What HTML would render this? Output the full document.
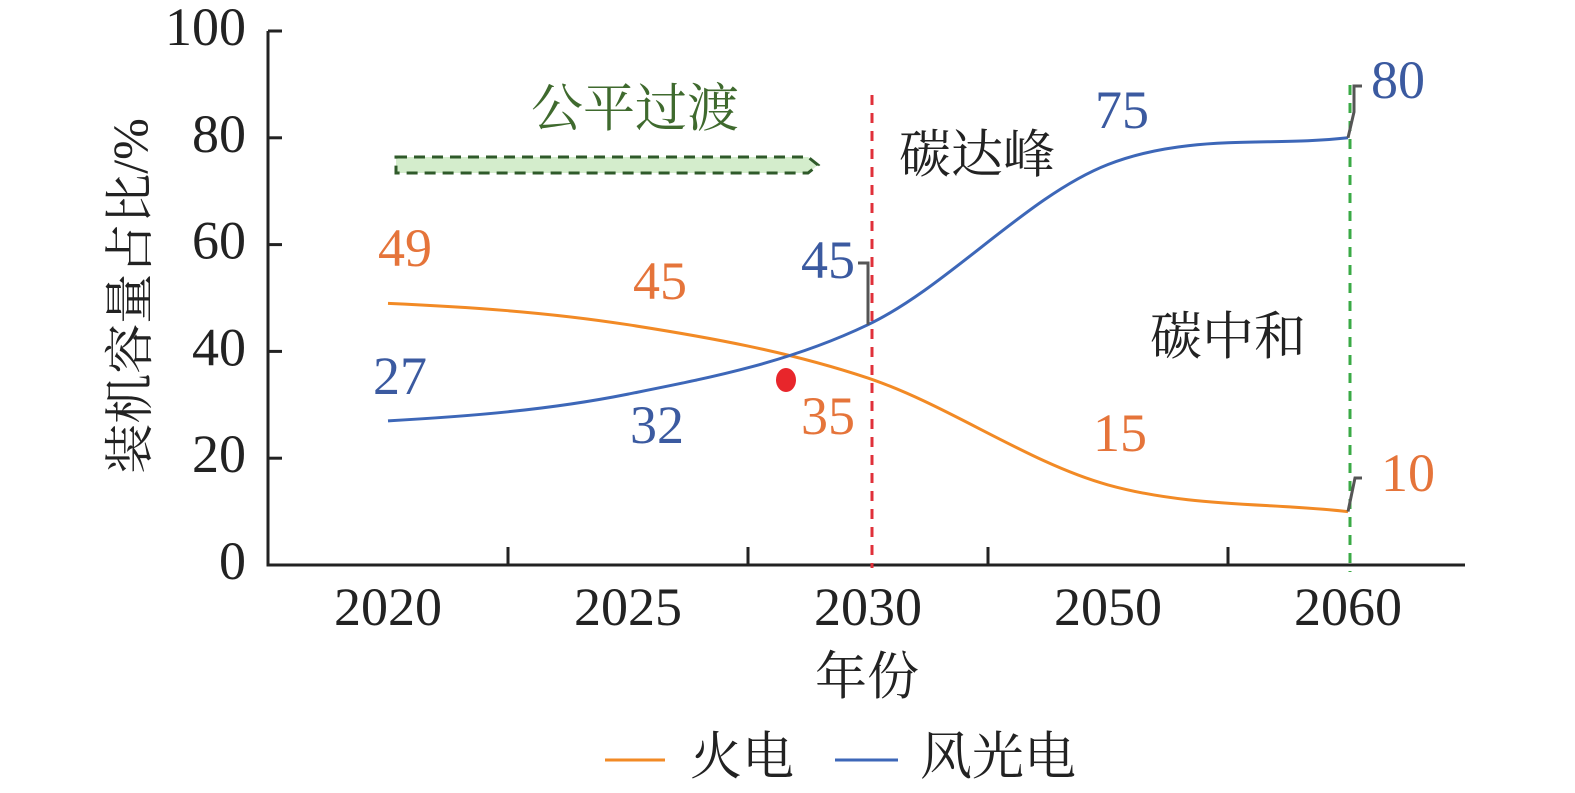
<!DOCTYPE html>
<html><head><meta charset="utf-8"><style>
body{margin:0;background:#fff}
svg text{font-family:"Liberation Serif","Noto Serif CJK SC",serif;dominant-baseline:central}
</style></head><body>
<svg id="c" width="1575" height="788" viewBox="0 0 1575 788">
</svg>
<script>
const categories=["2020","2025","2030","2050","2060"];
const fireValues=[49,45,35,15,10];
const windValues=[27,32,45,75,80];
const yTicks=[0,20,40,60,80,100];
const fireLabels=["49","45","35","15","10"];
const windLabels=["27","32","45","75","80"];
const NS="http://www.w3.org/2000/svg";
const svg=document.getElementById('c');
const x0=268,x1=1465,y0=565,y100=31;
const bw=240;
function xs(i){return x0+bw*(i+0.5);}
function ys(v){return y0-(y0-y100)*v/100;}
function mk(tag,attrs,parent){const e=document.createElementNS(NS,tag);for(const k in attrs)e.setAttribute(k,attrs[k]);(parent||svg).appendChild(e);return e;}
function txt(s,x,y,size,fill,anchor,name){const t=mk('text',{x:x,y:y,'font-size':size,fill:fill,'text-anchor':anchor||'middle'});t.textContent=s;


return t;}
const ax=mk('path',{d:`M${x0} ${y100}V${y0}H${x1}`,stroke:'#222',fill:'none','stroke-width':3});


yTicks.forEach(v=>{const y=ys(v);
const t=mk('line',{x1:x0,x2:x0+14,y1:y,y2:y,stroke:'#222','stroke-width':3});


txt(String(v),246,y-4,54,'#222','end','y-tick-label');});
for(let i=1;i<5;i++){const x=x0+bw*i;
const t=mk('line',{x1:x,x2:x,y1:y0,y2:y0-18,stroke:'#222','stroke-width':3});

}
categories.forEach((c,i)=>txt(c,xs(i),607,54,'#222','middle','x-tick-label'));
const yt=txt('装机容量占比/%',0,0,50,'#222','middle','y-axis-title');
yt.setAttribute('transform','translate(130,296) rotate(-90)');
txt('年份',867,678,52,'#222','middle','x-axis-title');
function path(vals){const pts=vals.map((v,i)=>[xs(i),ys(v)]);const n=pts.length;const d=[],m=[];
for(let i=0;i<n-1;i++)d.push((pts[i+1][1]-pts[i][1])/(pts[i+1][0]-pts[i][0]));
for(let i=0;i<n;i++){if(i==0)m.push(d[0]*0.5);else if(i==n-1)m.push(d[n-2]);else m.push(d[i-1]*d[i]<=0?0:(d[i-1]+d[i])/2);}
let s=`M${pts[0][0]} ${pts[0][1]}`;
for(let i=0;i<n-1;i++){const h=(pts[i+1][0]-pts[i][0])/3;s+=`C${pts[i][0]+h} ${pts[i][1]+m[i]*h},${pts[i+1][0]-h} ${pts[i+1][1]-m[i+1]*h},${pts[i+1][0]} ${pts[i+1][1]}`;}
return s;}
const rl=mk('line',{x1:872,x2:872,y1:95,y2:568,stroke:'#e0303a','stroke-width':3,'stroke-dasharray':'10 8'});


const gl=mk('line',{x1:1350,x2:1350,y1:85,y2:572,stroke:'#3aaa45','stroke-width':3,'stroke-dasharray':'10 8'});


const fp=mk('path',{d:path(fireValues),stroke:'#f28a25',fill:'none','stroke-width':3});


const wp=mk('path',{d:path(windValues),stroke:'#3d67b8',fill:'none','stroke-width':3});


const fpos=[[405,248],[660,281],[828,416],[1120,433],[1408,473]];
const wpos=[[400,376],[657,425],[828,260],[1122,110],[1398,80]];
fireLabels.forEach((s,i)=>txt(s,fpos[i][0],fpos[i][1],54,'#e5743a','middle','fire-value-label'));
windLabels.forEach((s,i)=>txt(s,wpos[i][0],wpos[i][1],54,'#3b5aa0','middle','wind-value-label'));
[[`M858 263H868V${ys(windValues[2])}`],[`M${xs(4)} ${ys(windValues[4])}L1354 112V86H1362`],[`M${xs(4)} ${ys(fireValues[4])}L1355 478H1362`]].forEach(p=>{
const l=mk('path',{d:p[0],stroke:'#555',fill:'none','stroke-width':3});

});
const dot=mk('ellipse',{cx:786,cy:380,rx:10,ry:12,fill:'#e8262b'});


const ar=mk('path',{d:'M396 157H808L818 165L808 173H396Z',fill:'#d4edcc',stroke:'#2f5a2a','stroke-width':3,'stroke-dasharray':'11 7'});


txt('公平过渡',635,110,52,'#3f6a2e','middle','just-transition-label');
txt('碳达峰',977,156,52,'#222','middle','carbon-peak-label');
txt('碳中和',1228,338,52,'#222','middle','carbon-neutral-label');
const l1=mk('line',{x1:605,x2:665,y1:760,y2:760,stroke:'#f28a25','stroke-width':3});


txt('火电',690,758,52,'#222','start','legend-fire-label');
const l2=mk('line',{x1:835,x2:898,y1:760,y2:760,stroke:'#3d67b8','stroke-width':3});


txt('风光电',920,758,52,'#222','start','legend-wind-label');
</script>
</body></html>
